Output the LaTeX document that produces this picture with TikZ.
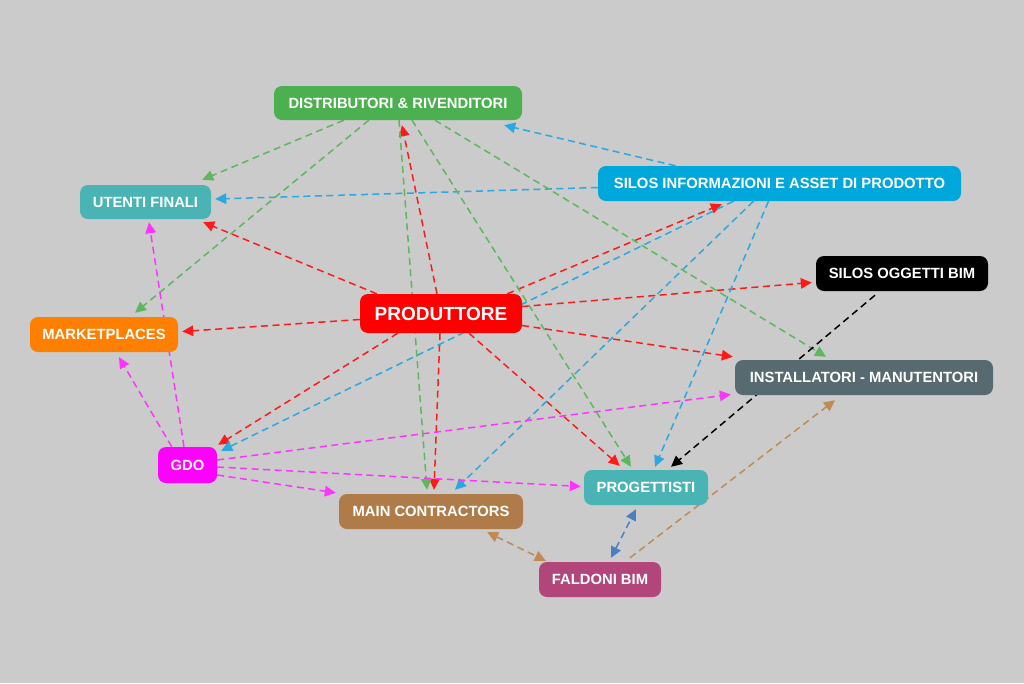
\documentclass[tikz,border=0pt]{standalone}
\usepackage{fontspec}
\setmainfont{Liberation Sans}
\usetikzlibrary{arrows.meta,calc}

\definecolor{bggray}{HTML}{CBCBCB}
\definecolor{cdist}{HTML}{4CAF50}
\definecolor{cteal}{HTML}{4AB4B4}
\definecolor{csinfo}{HTML}{00A7DB}
\definecolor{cprod}{HTML}{FF0000}
\definecolor{cmkt}{HTML}{FF8000}
\definecolor{cinst}{HTML}{566A70}
\definecolor{cgdo}{HTML}{FF00FF}
\definecolor{cmc}{HTML}{AF7B48}
\definecolor{cfald}{HTML}{B2467A}
\definecolor{cred}{HTML}{FF1A1A}
\definecolor{cblue}{HTML}{29A9DF}
\definecolor{cgreen}{HTML}{5DB85D}
\definecolor{cmag}{HTML}{FF33FF}
\definecolor{cbrown}{HTML}{C08A52}
\definecolor{csteel}{HTML}{4A80C0}

\pgfdeclarelayer{bg}
\pgfdeclarelayer{links}
\pgfsetlayers{bg,links,main}

\begin{document}
\begin{tikzpicture}[x=1pt,y=-1pt,
        >={Triangle[length=11pt,width=10.5pt]},
        box/.style={rounded corners=8pt,text=white,inner sep=0pt,minimum height=35pt,
            font=\bfseries\fontsize{14.8}{17}\selectfont},
        link/.style={->,draw=#1,line width=1.5pt,dash pattern=on 7pt off 4.5pt}]
        \begin{pgfonlayer}{bg}
            \fill[bggray] (0,0) rectangle (1024,683);
        \end{pgfonlayer}
        % nodes
        \node[box,fill=cdist,minimum width=248pt,minimum height=34pt] (dist) at (398,103) {DISTRIBUTORI \& RIVENDITORI};
        \node[box,fill=cteal,minimum width=131pt,minimum height=34pt] (uf) at (145.5,202) {UTENTI FINALI};
        \node[box,fill=csinfo,minimum width=363pt] (sinfo) at (779.5,183.5) {SILOS INFORMAZIONI E ASSET DI PRODOTTO};
        \node[box,fill=black,minimum width=172pt] (sbim) at (902,273.5) {SILOS OGGETTI BIM};
        \node[box,fill=cprod,minimum width=162pt,minimum height=39pt,font=\bfseries\fontsize{19}{22}\selectfont] (prod) at (441,313.5) {PRODUTTORE};
        \node[box,fill=cmkt,minimum width=148pt] (mkt) at (104,334.5) {MARKETPLACES};
        \node[box,fill=cinst,minimum width=258pt] (inst) at (864,377.5) {INSTALLATORI - MANUTENTORI};
        \node[box,fill=cgdo,minimum width=59pt,minimum height=36pt] (gdo) at (187.5,465) {GDO};
        \node[box,fill=cteal,minimum width=124pt] (prog) at (646,487.5) {PROGETTISTI};
        \node[box,fill=cmc,minimum width=184pt] (mc) at (431,511.5) {MAIN CONTRACTORS};
        \node[box,fill=cfald,minimum width=122pt] (fald) at (600,579.5) {FALDONI BIM};

        \begin{pgfonlayer}{links}
            % produttore
            \draw[link=cred] ($(prod.north west)+(17,0)$) -- ($(uf.south east)+(-8,3)$);
            \draw[link=cred] ($(prod.west)+(0,6)$) -- ($(mkt.east)+(4,-3)$);
            \draw[link=cred] ($(prod.north)+(-4,0)$) -- ($(dist.south)+(4,5)$);
            \draw[link=cred] ($(prod.south)+(-1,0)$) -- ($(mc.north)+(3,-4)$);
            \draw[link=cred] ($(prod.north east)+(-15,0)$) -- ($(sinfo.south west)+(124,3)$);
            \draw[link=cred] ($(prod.east)+(0,-7)$) -- ($(sbim.west)+(-4,9)$);
            \draw[link=cred] ($(prod.east)+(0,12)$) -- ($(inst.north west)+(-2,-3)$);
            \draw[link=cred] ($(prod.south)+(28,0)$) -- ($(prog.north west)+(36,-4)$);
            \draw[link=cred] ($(prod.south west)+(38,0)$) -- ($(gdo.north east)+(1,-2)$);
            % silos informazioni
            \draw[link=cblue] ($(sinfo.north)+(-104,0)$) -- ($(dist.south east)+(-18,5)$);
            \draw[link=cblue] ($(sinfo.west)+(0,4)$) -- ($(uf.east)+(4,-3)$);
            \draw[link=cblue] ($(sinfo.south)+(-46,0)$) -- ($(gdo.north east)+(4,4)$);
            \draw[link=cblue] ($(sinfo.south)+(-26,0)$) -- ($(mc.north)+(24,-4)$);
            \draw[link=cblue] ($(sinfo.south)+(-11,0)$) -- ($(prog.north)+(9,-3)$);
            % distributori
            \draw[link=cgreen] ($(dist.south west)+(70,0)$) -- ($(uf.north east)+(-9,-5)$);
            \draw[link=cgreen] ($(dist.south west)+(95,0)$) -- ($(mkt.north)+(31,-4)$);
            \draw[link=cgreen] ($(dist.south)+(1,0)$) -- ($(mc.north)+(-4,-4)$);
            \draw[link=cgreen] ($(dist.south)+(14,0)$) -- ($(prog.north)+(-15,-3)$);
            \draw[link=cgreen] ($(dist.south)+(37,0)$) -- ($(inst.north)+(-38,-3)$);
            % gdo
            \draw[link=cmag] ($(gdo.north)+(-3.5,0)$) -- ($(uf.south)+(3.5,3)$);
            \draw[link=cmag] ($(gdo.north west)+(14,0)$) -- ($(mkt.south)+(15,5)$);
            \draw[link=cmag] ($(gdo.east)+(0,-5)$) -- ($(inst.west)+(-4,17)$);
            \draw[link=cmag] ($(gdo.east)+(0,2)$) -- ($(prog.west)+(-3,-1)$);
            \draw[link=cmag] ($(gdo.east)+(0,10)$) -- ($(mc.north west)+(-3,-1)$);
            % oggetti bim, faldoni
            \draw[link=black] ($(sbim.south)+(-27,4)$) -- ($(prog.north)+(25,-3)$);
            \draw[link=cbrown,<->] ($(mc.south east)+(-36,3)$) -- ($(fald.north west)+(7,-1)$);
            \draw[link=cbrown] ($(fald.north)+(30,-4)$) -- ($(inst.south)+(-29,5)$);
            \draw[link=csteel,<->] ($(fald.north)+(11,-4)$) -- ($(prog.south)+(-10,4)$);
        \end{pgfonlayer}
\end{tikzpicture}
\end{document}
